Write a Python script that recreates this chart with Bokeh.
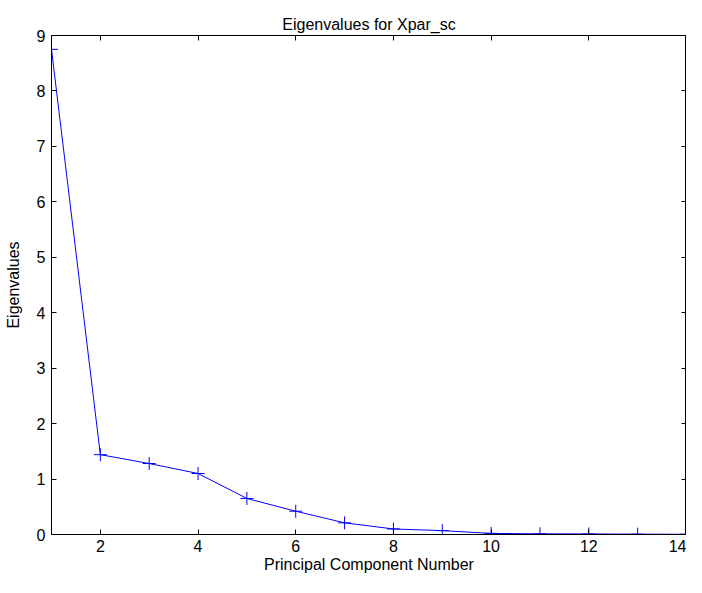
from bokeh.plotting import figure
from bokeh.models import Range1d, LinearAxis, FixedTicker
from bokeh.embed import file_html
from bokeh.resources import INLINE

components = [1, 2, 3, 4, 5, 6, 7, 8, 9, 10, 11, 12, 13, 14]
eigenvalues = [8.75, 1.44, 1.28, 1.10, 0.65, 0.42, 0.21, 0.10, 0.07, 0.02, 0.012, 0.01, 0.006, 0.004]
x_ticks = [2, 4, 6, 8, 10, 12, 14]
y_ticks = [0, 1, 2, 3, 4, 5, 6, 7, 8, 9]

FONT = "Liberation Sans"
FS = "16px"

p = figure(width=686, height=577, output_backend="svg", toolbar_location=None,
           x_range=Range1d(1, 14), y_range=Range1d(0, 9),
           min_border_left=51, min_border_right=0, min_border_top=35, min_border_bottom=43,
           x_axis_label="Principal Component Number", y_axis_label="Eigenvalues",
           title="Eigenvalues for Xpar_sc")

p.title.align = "center"
p.title.text_font = FONT
p.title.text_font_size = FS
p.title.text_font_style = "normal"
p.title.text_color = "black"
p.title.standoff = 6
p.title.offset = 0

p.grid.visible = False
p.outline_line_color = "black"
p.outline_line_width = 1
p.background_fill_color = "white"
p.border_fill_color = "white"

for ax in p.xaxis:
    ax.ticker = FixedTicker(ticks=x_ticks)
for ax in p.yaxis:
    ax.ticker = FixedTicker(ticks=y_ticks)

def style(ax):
    ax.major_tick_in = 5
    ax.major_tick_out = 0
    ax.minor_tick_line_color = None
    ax.axis_line_color = "black"
    ax.axis_line_width = 1
    ax.major_tick_line_color = "black"
    ax.major_tick_line_width = 1
    ax.major_label_text_font = FONT
    ax.major_label_text_font_size = FS
    ax.major_label_text_color = "black"
    ax.axis_label_text_font = FONT
    ax.axis_label_text_font_size = FS
    ax.axis_label_text_font_style = "normal"
    ax.axis_label_text_color = "black"

for ax in p.xaxis + p.yaxis:
    style(ax)
p.xaxis.major_label_standoff = 5
p.xaxis.axis_label_standoff = 1
p.yaxis.major_label_standoff = 6
p.yaxis.axis_label_standoff = 12

top = LinearAxis(ticker=FixedTicker(ticks=x_ticks),
                 major_label_overrides={t: "" for t in x_ticks})
style(top)
top.major_label_standoff = 0
p.add_layout(top, "above")
right = LinearAxis(ticker=FixedTicker(ticks=y_ticks),
                   major_label_overrides={t: "" for t in y_ticks})
style(right)
right.major_label_standoff = 0
p.add_layout(right, "right")

p.line(components, eigenvalues, line_color="#0000ff", line_width=1)
p.scatter(components, eigenvalues, marker="cross", size=13, line_color="#0000ff",
          line_width=1, fill_color=None)

open("out.html", "w").write(file_html(p, INLINE))
